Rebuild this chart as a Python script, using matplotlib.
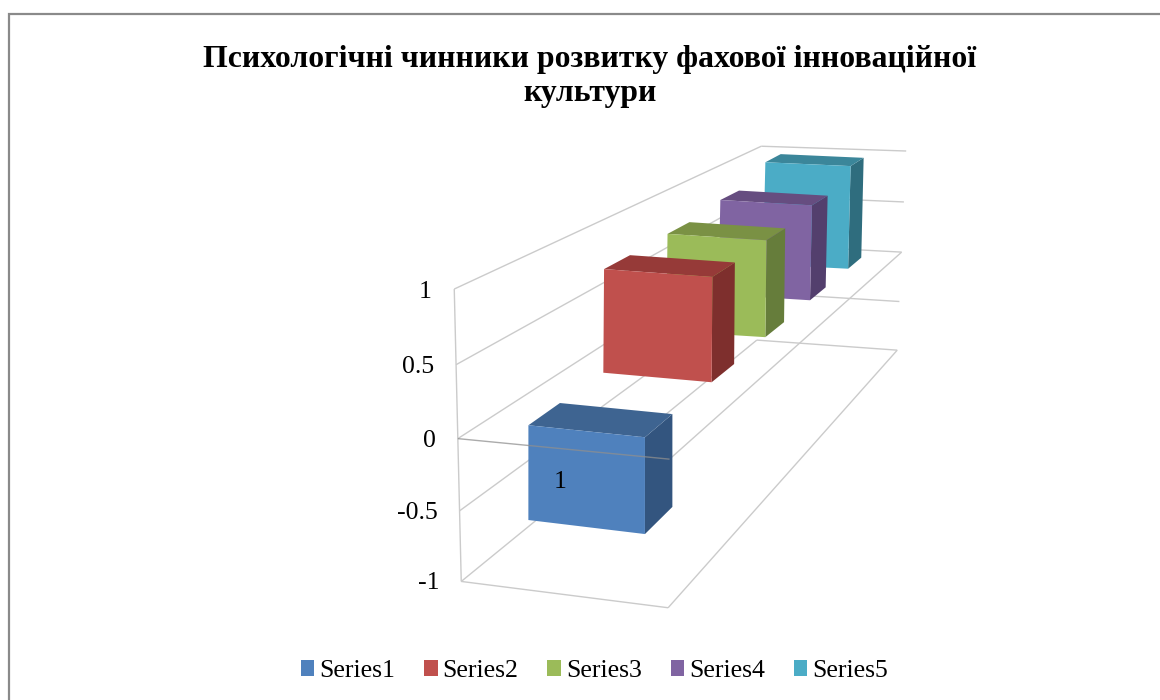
import numpy as np
import matplotlib
matplotlib.use("Agg")
import matplotlib.pyplot as plt
from matplotlib.patches import Patch, Rectangle
from mpl_toolkits.mplot3d.art3d import Line3DCollection

# ---- chart data ----
TITLE = "Психологічні чинники розвитку фахової інноваційної\nкультури"
series_names = ["Series1", "Series2", "Series3", "Series4", "Series5"]
series_values = [1, 1, 1, 1, 1]
value_ticks = [-1, -0.5, 0, 0.5, 1]
value_tick_labels = ["-1", "-0.5", "0", "0.5", "1"]
front_colors = ["#4F81BD", "#C0504D", "#9BBB59", "#8064A2", "#4BACC6"]
top_colors = ["#3E6491", "#963A38", "#7A9144", "#664D80", "#3B869A"]
side_colors = ["#33557F", "#7E2F2D", "#667D3B", "#533F6D", "#2F6D7E"]

FONT = "Liberation Serif"
W, H = 1160, 700
GRID = "#cbcbcb"

# ---- camera calibration: scene point (x, depth, value) <-> picture pixel ----
frame_cal = [
    ((0, 0, 1), (454, 290)), ((0, 0, .5), (456, 364)), ((0, 0, 0), (457.5, 438)),
    ((0, 0, -.5), (459.5, 510)), ((0, 0, -1), (461, 580)),
    ((1, 0, 0), (670.7, 461)), ((1, 0, -1), (668, 608.7)),
    ((0, 5, 1), (761.7, 145)), ((0, 5, -1), (757, 343)),
    ((1, 5, 1), (905.7, 152.3)), ((1, 5, .5), (904, 202)), ((1, 5, 0), (901.7, 251.7)),
    ((1, 5, -.5), (899, 300)), ((1, 5, -1), (897.3, 349)),
]
BAR_DEPTH = 0.4
BAR_CORNERS = [(0, 0, 1), (1, 0, 1), (1, 0, 0), (0, 0, 0), (0, 1, 1), (1, 1, 1), (1, 1, 0)]
_bar_px = [
    # front TL, front TR, front BR, front BL, back TL, back TR, back BR
    [(528, 425.3), (645, 437.3), (645, 534), (528.7, 520), (560, 403), (672.7, 414), (672, 507)],
    [(603.7, 269.3), (712.3, 276.7), (711.7, 382.3), (603.7, 372.7), (630, 255), (735.3, 262.7), (733.7, 364)],
    [(667, 234), (766.7, 240), (765, 337.3), (667, 331), (689.3, 222), (785.7, 228.7), (783.7, 322)],
    [(719.7, 200.3), (812.3, 205), (809.7, 300.3), (719, 294.5), (739, 190.3), (828, 196), (825.3, 287.3)],
    [(764.7, 162.3), (851, 165.7), (847.3, 269), (764, 264.5), (780.3, 154), (864.3, 158.3), (861, 257.3)],
]


def fit_camera(cal, value_term=True):
    """Least-squares projective camera; w may ignore the value axis."""
    rows, rhs = [], []
    for (x, y, z), (u, v) in cal:
        ez = z if value_term else 0.0
        rows.append([x, y, z, 1, 0, 0, 0, 0, -u * x, -u * y, -u * ez])
        rhs.append(u)
        rows.append([0, 0, 0, 0, x, y, z, 1, -v * x, -v * y, -v * ez])
        rhs.append(v)
    a = np.linalg.lstsq(np.array(rows, float), np.array(rhs, float), rcond=None)[0]
    return np.array([a[:4], a[4:8], [a[8], a[9], a[10], 1]])


def scene_axes(fig, P, zorder):
    ax = fig.add_axes([0, 0, 1, 1], projection="3d", zorder=zorder)
    ax.set_axis_off()
    ax.patch.set_visible(False)
    ax.computed_zorder = False
    # third row only orders faces
    P4 = np.vstack([P[0], P[1], np.array([0, 0.01, 0, 0]) - 0.5 * P[2], P[2]])
    flip = np.array([[1, 0, 0, 0], [0, -1, 0, H], [0, 0, 1, 0], [0, 0, 0, 1]], float)

    def get_proj():
        T = ax.transData.inverted().get_affine().get_matrix()
        A = np.array([[T[0, 0], T[0, 1], 0, T[0, 2]],
                      [T[1, 0], T[1, 1], 0, T[1, 2]],
                      [0, 0, 1, 0], [0, 0, 0, 1]])
        return A @ flip @ P4

    ax.get_proj = get_proj
    return ax


fig = plt.figure(figsize=(W / 100, H / 100), dpi=100, facecolor="white")
fig.add_artist(Rectangle((8.5 / W, -0.02), 1.1, (H - 13.5) / H + 0.02,
                         transform=fig.transFigure, fill=False,
                         edgecolor="#8a8a8a", linewidth=1.6))

P_frame = fit_camera(frame_cal)

# ---- frame: walls, floor and the zero plane ----
ax_f = scene_axes(fig, P_frame, 1)
DEPTH = len(series_names)
lo, hi = min(value_ticks), max(value_ticks)
segments = []
for v in value_ticks:
    segments.append([(0, 0, v), (0, DEPTH, v)])
    segments.append([(0, DEPTH, v), (1, DEPTH, v)])
segments.append([(0, 0, lo), (0, 0, hi)])
for v in (lo, 0):
    segments.append([(1, 0, v), (1, DEPTH, v)])
segments.append([(0, 0, lo), (1, 0, lo)])
ax_f.add_collection3d(Line3DCollection(segments, colors=GRID, linewidths=1.0))
for v, lab in zip(value_ticks, value_tick_labels):
    ax_f.text(-0.11, 0, v - 0.03, lab, ha="right", va="center", family=FONT, fontsize=18.5, color="black")

# ---- bars: each column is rendered with its own fitted camera ----
CLEAR = (0, 0, 0, 0)
n = len(series_values)
for i, val in enumerate(series_values):
    cal = [((sx, dy * BAR_DEPTH, sz), p) for (sx, dy, sz), p in zip(BAR_CORNERS, _bar_px[i])]
    ax_b = scene_axes(fig, fit_camera(cal, value_term=False), 2 + n - i)
    ax_b.bar3d(0, 0, 0, 1, BAR_DEPTH, val,
               color=[CLEAR, top_colors[i], front_colors[i], CLEAR, CLEAR, side_colors[i]],
               shade=False, edgecolor="none")
    if i == 0:
        ax_b.text(0.28, 0, 0.44 * val, str(val), ha="center", va="center",
                  family=FONT, fontsize=18.5, color="black", zorder=20)

# ---- zero line in front of the first bar ----
ax_z = scene_axes(fig, P_frame, 3 + n)
ax_z.add_collection3d(Line3DCollection([[(0, 0, 0), (1, 0, 0)]], colors="#8f8f8f",
                                       linewidths=1.0, alpha=0.75))

# ---- title and legend ----
fig.text(590 / W, 1 - 76.5 / H, TITLE, ha="center", va="center", family=FONT,
         fontweight="bold", fontsize=22.9, linespacing=1.22, color="black")
handles = [Patch(facecolor=c, edgecolor="none", label=n_) for c, n_ in zip(front_colors, series_names)]
fig.legend(handles=handles, loc="center", bbox_to_anchor=(594.5 / W, 1 - 671 / H), ncol=5,
           frameon=False, prop={"family": FONT, "size": 18.5},
           handlelength=0.52, handleheight=0.6, handletextpad=0.2, columnspacing=1.12,
           borderpad=0, borderaxespad=0)

fig.savefig("out.png", dpi=100, facecolor="white")
